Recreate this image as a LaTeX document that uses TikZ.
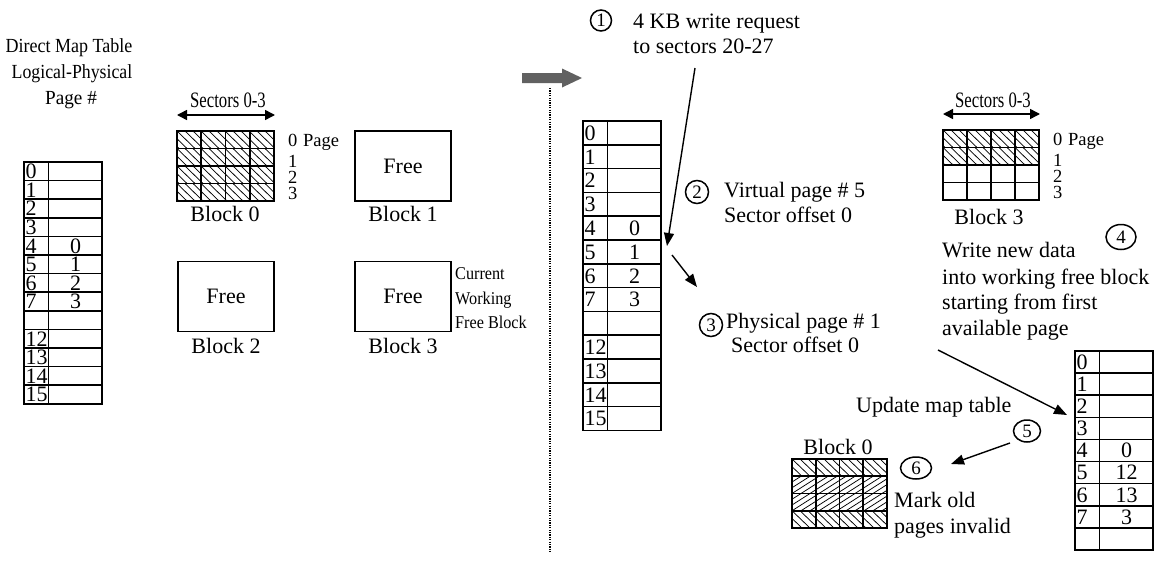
\documentclass[tikz,border=0pt]{standalone}
\usepackage{fontspec}
\setmainfont{Liberation Serif}
\usetikzlibrary{arrows.meta,shapes.geometric}

% 4x4 page/sector grid of a flash block
\newcommand\blockgrid[4]{% x, y, width, height
  \draw[gridline] (#1,#2) rectangle ++(#3,#4);
  \foreach \k in {1,2,3} {
    \draw[gridline] ({#1+\k*#3/4},#2) -- ++(0,#4);
    \draw[gridline] (#1,{#2+\k*#4/4}) -- ++(#3,0);
  }
}
% one page row hatched top-left to bottom-right (valid data)
\newcommand\hatchdown[4]{% x, y, width, height
  \begin{scope}
    \clip (#1,#2) rectangle ++(#3,#4);
    \foreach \k in {-3,...,13} \draw[hatch] ({#1+\k*8},#2) -- ++(18,#4);
  \end{scope}
}
% one page row hatched bottom-left to top-right (invalid data)
\newcommand\hatchup[4]{% x, y, width, height
  \begin{scope}
    \clip (#1,#2) rectangle ++(#3,#4);
    \foreach \k in {-4,...,13} \draw[hatch] ({#1+\k*9},{#2+#4}) -- ++(27,-#4);
  \end{scope}
}
% logical-to-physical map table: name, x, y, row height, rows label/value
\newcommand\maptable[5]{%
  \foreach \lab/\val [count=\i from 0] in {#5} {
    \draw[tableline] (#2,{#3+\i*#4}) rectangle ++(24.5,#4);
    \draw[tableline] ({#2+24.5},{#3+\i*#4}) rectangle ++(53.5,#4);
    \node[rowlab, anchor=west] (#1l\i) at ({#2+1.5},{#3+(\i+0.5)*#4}) {\lab};
    \node[rowlab] (#1v\i) at ({#2+51.5},{#3+(\i+0.5)*#4}) {\val};
  }
}

\begin{document}
\begin{tikzpicture}[x=1pt,y=-1pt,
  gridline/.style={line width=1.6pt},
  tableline/.style={line width=1.6pt},
  hatch/.style={line width=0.75pt},
  boxline/.style={line width=1.8pt},
  rowlab/.style={font=\fontsize{22}{25}\selectfont, inner sep=0pt, text height=14.8pt, text depth=0pt},
  lbl/.style={font=\fontsize{22}{25}\selectfont, inner sep=0pt, text height=14.6pt, text depth=0pt},
  small/.style={font=\fontsize{18.5}{21}\selectfont, inner sep=0pt, text height=12.3pt, text depth=0pt},
  narrow/.style={font=\fontsize{20}{24}\selectfont, inner sep=0pt, text height=13.2pt, text depth=0pt},
  secfont/.style={font=\fontsize{22}{25}\selectfont, inner sep=0pt, text height=14.6pt, text depth=0pt},
  note/.style={font=\fontsize{18}{21}\selectfont, inner sep=0pt, text height=11.9pt, text depth=0pt},
  num/.style={draw, ellipse, line width=1.5pt, inner sep=0pt, font=\fontsize{19}{22}\selectfont},
  arr/.style={line width=1.4pt, -{Triangle[length=13pt,width=10pt]}},
  span/.style={line width=1.5pt, {Triangle[length=10pt,width=10pt]}-{Triangle[length=10pt,width=10pt]}},
  freebox/.style={draw, boxline, minimum width=96pt, minimum height=70pt, inner sep=0pt, font=\fontsize{22}{25}\selectfont},
]
\useasboundingbox (0,0) rectangle (1163,565);

% ---------------- before the write ----------------
\node[narrow] (ttl1) at (69,46) {\scalebox{0.9}[1]{Direct Map Table}};
\node[narrow] (ttl2) at (72,72) {\scalebox{0.89}[1]{Logical-Physical}};
\node[narrow] (ttl3) at (71,98) {\scalebox{0.96}[1]{Page \#}};

\maptable{L}{24}{162}{18.6}{0/{},1/{},2/{},3/{},4/0,5/1,6/2,7/3,{}/{},12/{},13/{},14/{},15/{}}

% block 0, fully written
\node[secfont] (secA) at (228,100) {\scalebox{0.76}[1]{Sectors 0-3}};
\coordinate (secAl) at (177,115);
\coordinate (secAr) at (275,115);
\draw[span] (secAl) -- (secAr);
\foreach \r in {0,1,2,3} {\hatchdown{177}{131+\r*17.5}{97}{17.5}}
\blockgrid{177}{131}{97}{70}
\node[small, anchor=west] (pA0) at (288,140) {0};
\node[small, anchor=west] (pAw) at (303,140) {Page};
\node[small, anchor=west] (pA1) at (288,161) {1};
\node[small, anchor=west] (pA2) at (288,177) {2};
\node[small, anchor=west] (pA3) at (288,193) {3};
\node[lbl] (bA) at (225,214) {Block 0};

% free blocks
\node[freebox] (blk1) at (403,166) {Free};
\node[lbl] (bB) at (403,214) {Block 1};
\node[freebox] (blk2) at (226,296.5) {Free};
\node[lbl] (bC) at (226,346) {Block 2};
\node[freebox] (blk3) at (403,296.5) {Free};
\node[lbl] (bD) at (403,346) {Block 3};
\node[note, anchor=west] (cw1) at (455,274) {\scalebox{0.9}[1]{Current}};
\node[note, anchor=west] (cw2) at (455,299) {\scalebox{0.9}[1]{Working}};
\node[note, anchor=west] (cw3) at (455,323) {\scalebox{0.9}[1]{Free Block}};

% separator and transition arrow
\coordinate (sepT) at (550,88);
\coordinate (sepB) at (550,553);
\draw[line width=2pt, dash pattern=on 1.2pt off 1.2pt] (sepT) -- (sepB);
\fill[black!62] (522,73) -- (562,73) -- (562,68.5) -- (582,78) -- (562,87.5) -- (562,83) -- (522,83) -- cycle;

% ---------------- the write request ----------------
\maptable{M}{583}{121}{23.8}{0/{},1/{},2/{},3/{},4/0,5/1,6/2,7/3,{}/{},12/{},13/{},14/{},15/{}}

\node[num, minimum width=21pt, minimum height=21pt] (n1) at (601,20.5) {1};
\node[lbl, anchor=west] (req1) at (633,21) {4 KB write request};
\node[lbl, anchor=west] (req2) at (633,46) {to sectors 20-27};
\coordinate (a1s) at (695,68);
\coordinate (a1e) at (667,246);
\draw[arr] (a1s) -- (a1e);

\node[num, minimum width=23pt, minimum height=23pt] (n2) at (697,192) {2};
\node[lbl, anchor=west] (vp1) at (724,190) {Virtual page \# 5};
\node[lbl, anchor=west] (vp2) at (724,215) {Sector offset 0};

\coordinate (a2s) at (672,255);
\coordinate (a2e) at (697,287);
\draw[arr] (a2s) -- (a2e);
\node[num, minimum width=23pt, minimum height=23pt] (n3) at (711,325) {3};
\node[lbl, anchor=west] (pp1) at (726,321) {Physical page \# 1};
\node[lbl, anchor=west] (pp2) at (731,345) {Sector offset 0};

% ---------------- after the write ----------------
\node[secfont] (secB) at (993,100) {\scalebox{0.76}[1]{Sectors 0-3}};
\coordinate (secBl) at (943,114);
\coordinate (secBr) at (1040,114);
\draw[span] (secBl) -- (secBr);
\foreach \r in {0,1} {\hatchdown{943}{130+\r*17.5}{96}{17.5}}
\blockgrid{943}{130}{96}{70}
\node[small, anchor=west] (pB0) at (1053,139) {0};
\node[small, anchor=west] (pBw) at (1068,139) {Page};
\node[small, anchor=west] (pB1) at (1053,160) {1};
\node[small, anchor=west] (pB2) at (1053,176) {2};
\node[small, anchor=west] (pB3) at (1053,192) {3};
\node[lbl] (bE) at (989,217) {Block 3};

\node[num, minimum width=30pt, minimum height=25pt] (n4) at (1121,237) {4};
\node[lbl, anchor=west] (wr1) at (942,250) {Write new data};
\node[lbl, anchor=west] (wr2) at (942,277) {into working free block};
\node[lbl, anchor=west] (wr3) at (942,302) {starting from first};
\node[lbl, anchor=west] (wr4) at (942,328) {available page};
\coordinate (a4s) at (938,350);
\coordinate (a4e) at (1067,415);
\draw[arr] (a4s) -- (a4e);

\maptable{R}{1075}{351}{22.1}{0/{},1/{},2/{},3/{},4/0,5/12,6/13,7/3,{}/{}}

\node[lbl, anchor=west] (up) at (856,405) {Update map table};
\node[num, minimum width=27pt, minimum height=22pt] (n5) at (1027,431) {5};
\coordinate (a5s) at (1010,443);
\coordinate (a5e) at (951,464);
\draw[arr] (a5s) -- (a5e);

\node[lbl] (bF) at (838,447) {Block 0};
\hatchdown{792}{459}{95}{17.25}
\hatchup{792}{476.25}{95}{17.25}
\hatchup{792}{493.5}{95}{17.25}
\hatchdown{792}{510.75}{95}{17.25}
\blockgrid{792}{459}{95}{69}
\node[num, minimum width=31pt, minimum height=22pt] (n6) at (916,468) {6};
\node[lbl, anchor=west] (mk1) at (894,500) {Mark old};
\node[lbl, anchor=west] (mk2) at (894,526) {pages invalid};
\end{tikzpicture}
\end{document}
